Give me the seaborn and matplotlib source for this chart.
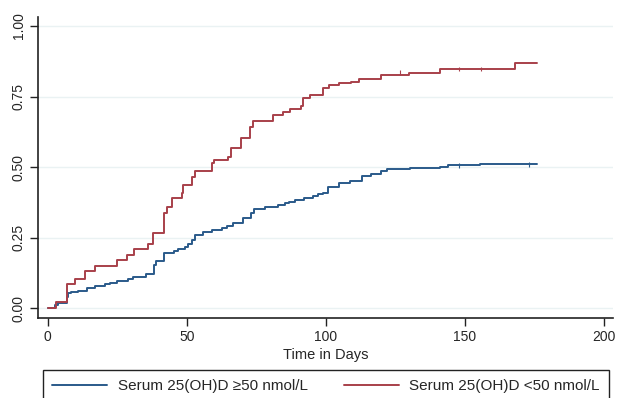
import matplotlib
matplotlib.use('Agg')
import pandas as pd
import seaborn as sns
import matplotlib.pyplot as plt

# cumulative failure
days_low = [0, 3, 6.8, 9.8, 13.4, 17, 25, 28.6, 31, 36.2, 38, 42, 42.8, 44.8,
            48.2, 48.8, 52, 53, 59, 59.8, 65, 65.8, 69.5, 72.8, 74, 81, 84.7,
            87.2, 91.1, 91.8, 94.4, 98.9, 101.2, 104.9, 109, 112, 119.9, 130,
            141, 168, 176]
fail_low = [0, 0.022, 0.087, 0.105, 0.131, 0.150, 0.169, 0.190, 0.209, 0.229,
            0.265, 0.336, 0.357, 0.389, 0.407, 0.436, 0.466, 0.486, 0.515,
            0.525, 0.537, 0.566, 0.604, 0.641, 0.663, 0.684, 0.694, 0.706,
            0.715, 0.745, 0.754, 0.781, 0.791, 0.797, 0.802, 0.811, 0.826,
            0.834, 0.848, 0.868, 0.868]

days_high = [0, 2.6, 3.8, 6.8, 7.4, 8.3, 11, 14, 17, 20.6, 22.4, 24.8, 29,
             30.8, 35.4, 38.2, 39, 41.8, 45.5, 47, 49.4, 50.6, 51.8, 53, 56,
             59, 62.6, 64.4, 66.8, 70.1, 73, 74.2, 78.2, 83, 85.2, 86.9, 89,
             92, 95.5, 97.3, 99.1, 100.9, 104.9, 108.7, 112.9, 116.2, 119.9,
             122.2, 130.3, 141, 144, 155.3, 176]
fail_high = [0, 0.011, 0.019, 0.038, 0.052, 0.058, 0.061, 0.070, 0.078, 0.084,
             0.090, 0.096, 0.103, 0.110, 0.121, 0.152, 0.167, 0.196, 0.203,
             0.209, 0.217, 0.229, 0.241, 0.260, 0.270, 0.277, 0.283, 0.291,
             0.302, 0.318, 0.336, 0.350, 0.359, 0.365, 0.371, 0.377, 0.383,
             0.391, 0.397, 0.403, 0.409, 0.430, 0.442, 0.451, 0.468, 0.475,
             0.486, 0.492, 0.497, 0.501, 0.506, 0.510, 0.510]

# censoring ticks
cens_low_days = [126.7, 148, 156]
cens_low_vals = [0.834, 0.848, 0.848]
cens_high_days = [148, 173]
cens_high_vals = [0.506, 0.510]

labels = ['Serum 25(OH)D \u226550 nmol/L', 'Serum 25(OH)D <50 nmol/L']
colors = ['#2A5A8A', '#A8404A']

df = pd.concat([
    pd.DataFrame({'day': days_high, 'fail': fail_high, 'group': labels[0]}),
    pd.DataFrame({'day': days_low, 'fail': fail_low, 'group': labels[1]}),
])
cens = pd.concat([
    pd.DataFrame({'day': cens_high_days, 'fail': cens_high_vals, 'group': labels[0]}),
    pd.DataFrame({'day': cens_low_days, 'fail': cens_low_vals, 'group': labels[1]}),
])

sns.set_theme(style='white')
plt.rcParams['font.family'] = ['Liberation Sans', 'DejaVu Sans']

fig = plt.figure(figsize=(6.18, 3.98), dpi=100)
ax = fig.add_axes([37.7 / 618, 80 / 398, (613 - 37.7) / 618, (318 - 17) / 398])

sns.lineplot(data=df, x='day', y='fail', hue='group', hue_order=labels,
             palette=colors, drawstyle='steps-post', estimator=None,
             linewidth=1.4, ax=ax)
sns.scatterplot(data=cens, x='day', y='fail', hue='group', hue_order=labels,
                palette=colors, marker='|', s=12, linewidth=0.8,
                legend=False, ax=ax)

ax.set_xlim(-3.6, 203.3)
ax.set_ylim(-0.035, 1.032)
ax.set_xticks([0, 50, 100, 150, 200])
ax.set_yticks([0, 0.25, 0.5, 0.75, 1.0])
ax.set_yticklabels(['0.00', '0.25', '0.50', '0.75', '1.00'])
ax.tick_params(axis='both', labelsize=10, length=5.5, width=1, color='#222222',
               direction='out', left=True, bottom=True, pad=3)
ax.tick_params(axis='y', rotation=90)
for t in ax.get_yticklabels():
    t.set_va('center')

ax.yaxis.grid(True, color='#EAF2F3', linewidth=1)
ax.xaxis.grid(False)
for s in ['top', 'right']:
    ax.spines[s].set_visible(False)
for s in ['left', 'bottom']:
    ax.spines[s].set_color('#222222')
    ax.spines[s].set_linewidth(1.2)

ax.set_xlabel('Time in Days', fontsize=10.5, labelpad=3)
ax.set_ylabel('')

handles, labs = ax.get_legend_handles_labels()
leg = ax.legend(handles, labs, ncol=2, loc='upper left',
                bbox_to_anchor=(43 / 618, 1 - 370 / 398 - 0.05, 566 / 618, 0.05),
                bbox_transform=fig.transFigure, mode='expand',
                frameon=True, fancybox=False, framealpha=1, edgecolor='#222222',
                fontsize=11, handlelength=3.6, handletextpad=0.7, borderpad=0.6,
                borderaxespad=0)
leg.get_frame().set_linewidth(1.0)

fig.savefig('out.png', dpi=100)
